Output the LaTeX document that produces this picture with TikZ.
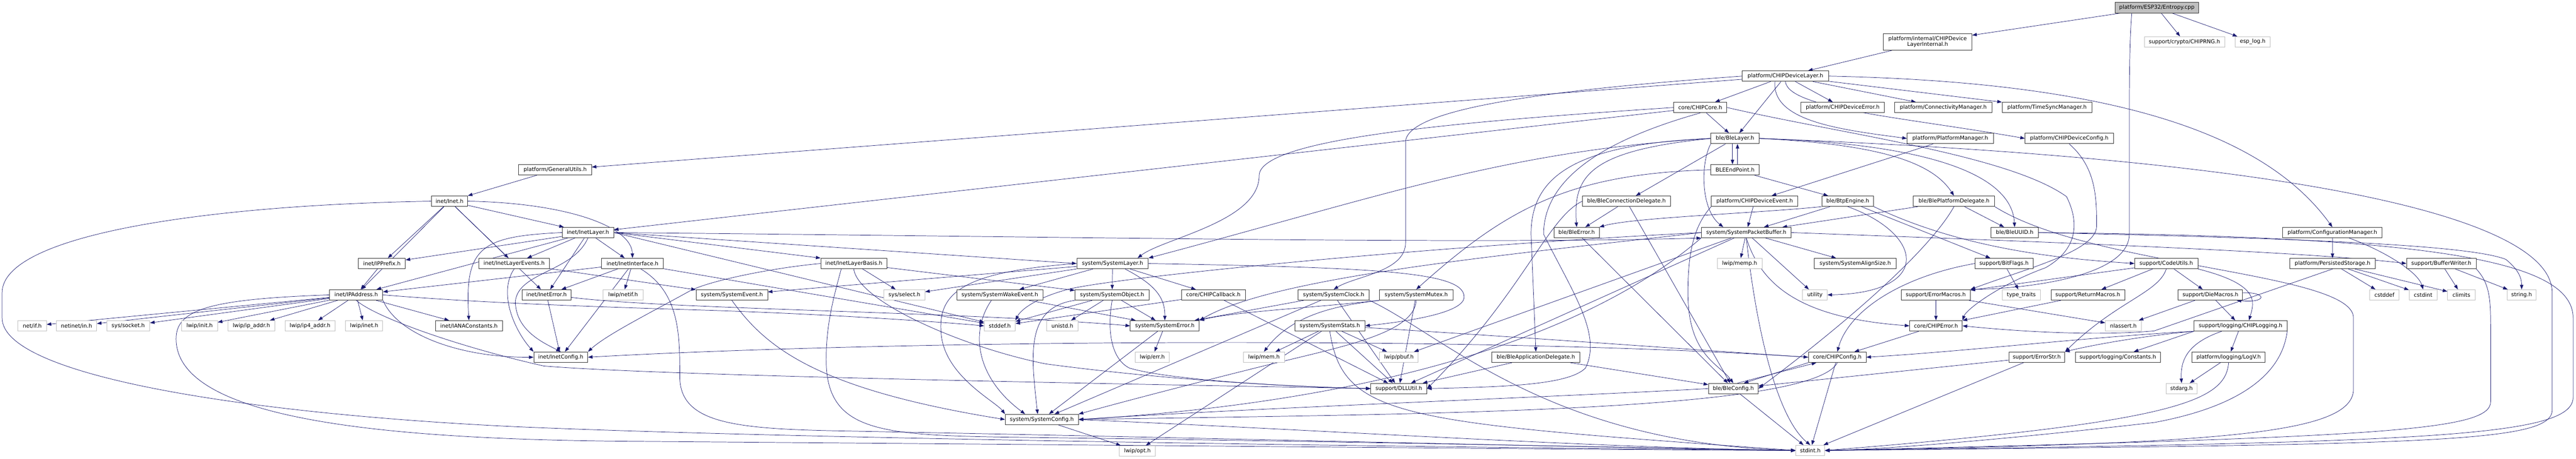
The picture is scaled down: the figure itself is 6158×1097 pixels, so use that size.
\documentclass[tikz,border=0pt]{standalone}
\usepackage{fontspec}
\newfontfamily\dvs{DejaVu Sans}
\usetikzlibrary{arrows.meta}
\definecolor{edgec}{HTML}{191970}
\pgfdeclarelayer{bg}
\pgfsetlayers{bg,main}
\tikzset{
  nd/.style={draw=black!80, line width=1.1pt, fill=white, minimum height=25pt, inner sep=0pt, text=black, font=\dvs\fontsize{12.9}{14}\selectfont},
  gn/.style={nd, draw=black!25},
  rn/.style={nd, fill=black!25},
  ed/.style={draw=edgec, line width=0.9pt, -{Triangle[length=11pt,width=8pt]}},
}
\begin{document}
\begin{tikzpicture}[x=1pt,y=-1pt]
\useasboundingbox (0,0) rectangle (6158,1097);
% ---------- nodes ----------
\node[rn,minimum width=200] (root) at (5156,18.5) {platform/ESP32/Entropy.cpp};
\node[nd,minimum width=212,minimum height=40,align=center] (dli) at (4608,100) {platform/internal/CHIPDevice\\LayerInternal.h};
\node[gn,minimum width=192] (rng) at (5222,100) {support/crypto/CHIPRNG.h};
\node[gn,minimum width=84] (esplog) at (5385,100) {esp\_log.h};
\node[nd,minimum width=206] (dl) at (4268,182) {platform/CHIPDeviceLayer.h};
\node[nd,minimum width=127] (core) at (4064.5,257) {core/CHIPCore.h};
\node[nd,minimum width=200] (derr) at (4405,257) {platform/CHIPDeviceError.h};
\node[nd,minimum width=233] (conn) at (4645.5,257) {platform/ConnectivityManager.h};
\node[nd,minimum width=215] (tsm) at (4893.5,257) {platform/TimeSyncManager.h};
\node[nd,minimum width=174] (gu) at (1327,406) {platform/GeneralUtils.h};
\node[nd,minimum width=115] (ble) at (4147.5,331) {ble/BleLayer.h};
\node[nd,minimum width=206] (pm) at (4662,331) {platform/PlatformManager.h};
\node[nd,minimum width=211] (dcfg) at (4946.5,331) {platform/CHIPDeviceConfig.h};
\node[nd,minimum width=115] (bep) at (4147.5,406) {BLEEndPoint.h};
\node[nd,minimum width=87] (inet) at (1074.5,481) {inet/Inet.h};
\node[nd,minimum width=210] (bcd) at (3888,481) {ble/BleConnectionDelegate.h};
\node[nd,minimum width=207] (dev) at (4194.5,481) {platform/CHIPDeviceEvent.h};
\node[nd,minimum width=124] (btp) at (4417,481) {ble/BtpEngine.h};
\node[nd,minimum width=194] (bpd) at (4671,481) {ble/BlePlatformDelegate.h};
\node[nd,minimum width=237] (cfgm) at (5575.5,556) {platform/ConfigurationManager.h};
\node[nd,minimum width=123] (il) at (1405.5,556) {inet/InetLayer.h};
\node[nd,minimum width=108] (berr) at (3769,556) {ble/BleError.h};
\node[nd,minimum width=215] (spb) at (4174.5,556) {system/SystemPacketBuffer.h};
\node[nd,minimum width=114] (uuid) at (4816,556) {ble/BleUUID.h};
% row 630
\node[nd,minimum width=112] (ipp) at (913,630) {inet/IPPrefix.h};
\node[nd,minimum width=168] (ile) at (1229,630) {inet/InetLayerEvents.h};
\node[nd,minimum width=148] (iif) at (1512,630) {inet/InetInterface.h};
\node[nd,minimum width=158] (ilb) at (2041,630) {inet/InetLayerBasis.h};
\node[nd,minimum width=171] (sl) at (2659.5,630) {system/SystemLayer.h};
\node[gn,minimum width=107] (memp) at (4158.5,630) {lwip/memp.h};
\node[nd,minimum width=196] (align) at (4435,630) {system/SystemAlignSize.h};
\node[nd,minimum width=139] (bf) at (4790.5,630) {support/BitFlags.h};
\node[nd,minimum width=151] (cu) at (5178.5,630) {support/CodeUtils.h};
\node[nd,minimum width=204] (ps) at (5576,630) {platform/PersistedStorage.h};
\node[nd,minimum width=166] (bw) at (5836,630) {support/BufferWriter.h};
% row 705
\node[nd,minimum width=127] (ipa) at (851.5,705) {inet/IPAddress.h};
\node[nd,minimum width=117] (ierr) at (1306.5,705) {inet/InetError.h};
\node[gn,minimum width=95] (netif) at (1489.5,705) {lwip/netif.h};
\node[nd,minimum width=171] (sev) at (1749.5,705) {system/SystemEvent.h};
\node[gn,minimum width=98] (select) at (2162,705) {sys/select.h};
\node[nd,minimum width=206] (swe) at (2390,705) {system/SystemWakeEvent.h};
\node[nd,minimum width=177] (sobj) at (2658.5,705) {system/SystemObject.h};
\node[nd,minimum width=153] (cb) at (2900.5,705) {core/CHIPCallback.h};
\node[nd,minimum width=170] (sclk) at (3188,705) {system/SystemClock.h};
\node[nd,minimum width=175] (smtx) at (3385.5,705) {system/SystemMutex.h};
\node[gn,minimum width=59] (util) at (4338.5,705) {utility};
\node[nd,minimum width=165] (em) at (4627.5,705) {support/ErrorMacros.h};
\node[gn,minimum width=92] (tt) at (4832,705) {type\_traits};
\node[nd,minimum width=176] (rm) at (4991,705) {support/ReturnMacros.h};
\node[nd,minimum width=154] (die) at (5284,705) {support/DieMacros.h};
\node[gn,minimum width=70] (cstddef) at (5700,705) {cstddef};
\node[gn,minimum width=67] (cstdint) at (5792.5,705) {cstdint};
\node[gn,minimum width=66] (climits) at (5884,705) {climits};
\node[gn,minimum width=70] (string) at (6028,705) {string.h};
% row 779
\node[gn,minimum width=68] (ifh) at (77,779) {net/if.h};
\node[gn,minimum width=96] (netin) at (183,779) {netinet/in.h};
\node[gn,minimum width=103] (sock) at (306.5,779) {sys/socket.h};
\node[gn,minimum width=86] (linit) at (477,779) {lwip/init.h};
\node[gn,minimum width=112] (lipa) at (601,779) {lwip/ip\_addr.h};
\node[gn,minimum width=120] (lip4) at (741,779) {lwip/ip4\_addr.h};
\node[gn,minimum width=89] (linet) at (870.5,779) {lwip/inet.h};
\node[nd,minimum width=160] (iana) at (1121,779) {inet/IANAConstants.h};
\node[gn,minimum width=74] (stddef) at (2390,779) {stddef.h};
\node[gn,minimum width=75] (unistd) at (2539.5,779) {unistd.h};
\node[nd,minimum width=165] (serr) at (2784.5,779) {system/SystemError.h};
\node[nd,minimum width=168] (sstats) at (3179,779) {system/SystemStats.h};
\node[nd,minimum width=126] (cerr) at (4628,779) {core/CHIPError.h};
\node[gn,minimum width=86] (nlassert) at (5076,779) {nlassert.h};
\node[nd,minimum width=222] (log) at (5356,779) {support/logging/CHIPLogging.h};
% row 854
\node[nd,minimum width=129] (icfg) at (1340.5,854) {inet/InetConfig.h};
\node[gn,minimum width=81] (lerr) at (2754.5,854) {lwip/err.h};
\node[gn,minimum width=99] (lmem) at (3021.5,854) {lwip/mem.h};
\node[gn,minimum width=92] (pbuf) at (3344,854) {lwip/pbuf.h};
\node[nd,minimum width=211] (bad) at (3671.5,854) {ble/BleApplicationDelegate.h};
\node[nd,minimum width=138] (ccfg) at (4392,854) {core/CHIPConfig.h};
\node[nd,minimum width=134] (estr) at (4869,854) {support/ErrorStr.h};
\node[nd,minimum width=203] (lconst) at (5062.5,854) {support/logging/Constants.h};
\node[nd,minimum width=175] (logv) at (5327.5,854) {platform/logging/LogV.h};
% row 929 and below
\node[nd,minimum width=134] (dll) at (3344,929) {support/DLLUtil.h};
\node[nd,minimum width=119] (bcfg) at (4143.5,929) {ble/BleConfig.h};
\node[gn,minimum width=74] (stdarg) at (5215,929) {stdarg.h};
\node[nd,minimum width=175] (scfg) at (2490.5,1003) {system/SystemConfig.h};
\node[gn,minimum width=86] (opt) at (2719,1078) {lwip/opt.h};
\node[gn,minimum width=69] (stdint) at (4327.5,1077) {stdint.h};
% ---------- edges ----------
\begin{pgfonlayer}{bg}
% root / device layer
\draw[ed] (root) -- (dli);
\draw[ed] (root) -- (rng);
\draw[ed] (root) -- (esplog);
\draw[ed] ([xshift=-60pt]root.south) .. controls (5092,80) and (5090,150) .. (5090,300) -- (5090,560) .. controls (5090,660) and (4850,690) .. (em.north east);
\draw[ed] (dli) -- (dl);
\draw[ed] (dl) -- (gu);
\draw[ed] (dl) -- (core);
\draw[ed] (dl.west) .. controls (3700,215) and (3360,260) .. (3360,340) -- (3360,580) .. controls (3360,650) and (3240,660) .. (sclk.north);
\draw[ed] (dl) -- (derr);
\draw[ed] (dl) -- (conn);
\draw[ed] (dl) -- (tsm);
\draw[ed] ([xshift=-25pt]dl.south) .. controls (4235,290) and (4400,310) .. (pm.west);
\draw[ed] (dl.south) .. controls (4275,260) and (4550,280) .. (dcfg.west);
\draw[ed] (dl) -- (ble);
\draw[ed] (dl.east) .. controls (5000,195) and (5400,300) .. (cfgm.north);
\draw[ed] (gu) -- (inet);
% inet
\draw[ed] (inet) -- (ipa);
\draw[ed] (inet) -- (ipp);
\draw[ed] (inet) -- (ierr);
\draw[ed] (inet) -- (ile);
\draw[ed] (inet) -- (il);
\draw[ed] (inet.east) .. controls (1350,485) and (1510,540) .. (iif.north);
\draw[ed] (inet.west) .. controls (500,490) and (5,560) .. (5,700) -- (5,760) .. controls (5,900) and (600,990) .. (1230,1020) .. controls (1800,1045) and (3000,1065) .. (stdint.west);
% core
\draw[ed] (core) -- (il);
\draw[ed] (core.west) .. controls (3500,290) and (3010,330) .. (3010,420) .. controls (3010,530) and (2780,570) .. ([xshift=60pt]sl.north);
\draw[ed] (core) -- (ble);
\draw[ed] (core.south) .. controls (3850,330) and (3690,420) .. (3690,560) .. controls (3760,700) and (3830,800) .. (3790,880) .. controls (3750,920) and (3600,925) .. (dll.east);
\draw[ed] (core.east) .. controls (4400,320) and (4800,370) .. (4940,470) .. controls (4975,540) and (4960,600) .. (4890,640) .. controls (4780,680) and (4700,740) .. (cerr.north east);
% ble
\draw[ed] ([xshift=-6pt]ble.south) -- ([xshift=-6pt]bep.north);
\draw[ed] ([xshift=6pt]bep.north) -- ([xshift=6pt]ble.south);
\draw[ed] (ble) -- (bcd);
\draw[ed] (ble.west) .. controls (3800,360) and (3760,420) .. (berr.north);
\draw[ed] (ble.west) .. controls (3750,345) and (3660,430) .. (3660,560) -- (bad.north);
\draw[ed] (ble.west) .. controls (3600,360) and (3300,470) .. (sl.north east);
\draw[ed] (ble.east) .. controls (4500,345) and (4620,390) .. (bpd.north);
\draw[ed] (ble.east) .. controls (4650,345) and (4810,430) .. (uuid.north);
\draw[ed] (ble.south west) .. controls (4065,390) and (4065,500) .. ([xshift=-55pt]spb.north);
\draw[ed] (ble.east) .. controls (5500,380) and (6101,520) .. (6101,700) -- (6101,980) .. controls (6101,1060) and (5800,1062) .. (stdint.east);
% bep, bcd, berr, bad, dev, pm, dcfg
\draw[ed] (bep) -- (btp);
\draw[ed] (bep.west) .. controls (3750,415) and (3600,500) .. (smtx.north);
\draw[ed] (bcd) -- (berr);
\draw[ed] (bcd) -- (bcfg);
\draw[ed] (bcd.west) .. controls (3700,520) and (3640,700) .. (dll.east);
\draw[ed] (berr) -- (bcfg);
\draw[ed] (bad) -- (dll);
\draw[ed] (bad) -- (bcfg);
\draw[ed] (dev) -- (spb);
\draw[ed] (dev.south west) .. controls (4050,540) and (4035,600) .. (4035,700) .. controls (4035,850) and (4110,870) .. (bcfg.north);
\draw[ed] (pm) -- (dev);
\draw[ed] (dcfg.south) .. controls (5010,400) and (5012,470) .. (5012,540) .. controls (5012,600) and (4850,640) .. (em.north east);
% btp, bpd, uuid
\draw[ed] (btp) -- (spb);
\draw[ed] (btp.south west) .. controls (4200,510) and (3900,520) .. (berr.north east);
\draw[ed] (btp) -- (bf);
\draw[ed] (btp.south) .. controls (4600,560) and (4620,700) .. (util.east);
\draw[ed] (btp.south east) .. controls (4700,600) and (4950,620) .. (cu.west);
\draw[ed] (bpd) -- (spb);
\draw[ed] (bpd) -- (uuid);
\draw[ed] (bpd.south) .. controls (4600,620) and (4350,820) .. (bcfg.east);
\draw[ed] (bpd.south east) .. controls (5000,640) and (5626,650) .. (5626,760) -- (5626,930) .. controls (5626,1040) and (5300,1060) .. (stdint.east);
\draw[ed] (uuid.east) .. controls (5500,570) and (5900,585) .. (5990,620) .. controls (6015,640) and (6028,660) .. (string.north);
\draw[ed] (uuid.east) .. controls (5800,565) and (6151,620) .. (6151,760) -- (6151,950) .. controls (6151,1045) and (5800,1058) .. (stdint.east);
% inet layer
\draw[ed] (il) -- (ipp);
\draw[ed] (il) -- (ipa);
\draw[ed] (il.west) .. controls (1150,565) and (1110,590) .. (iana.north);
\draw[ed] (il) -- (ile);
\draw[ed] (il) -- (iif);
\draw[ed] (il) -- (ierr);
\draw[ed] (il.south) .. controls (1370,650) and (1240,650) .. (1232,720) .. controls (1232,790) and (1300,820) .. (icfg.north);
\draw[ed] (il.east) -- (ilb.north west);
\draw[ed] (il.east) -- (sl.west);
\draw[ed] (il.east) .. controls (2500,565) and (3500,585) .. (spb.south west);
\draw[ed] (il.east) -- (stddef);
\draw[ed] (ile.south) .. controls (1190,700) and (1230,790) .. (icfg.north west);
\draw[ed] (ile) -- (sev);
\draw[ed] (iif) -- (ipa);
\draw[ed] (iif) -- (ierr);
\draw[ed] (iif) -- (netif);
\draw[ed] (iif) -- (icfg);
\draw[ed] (iif) -- (stddef);
\draw[ed] ([xshift=20pt]iif.south) .. controls (1625,700) and (1625,800) .. (1625,900) .. controls (1625,1010) and (1750,1025) .. (2000,1030) .. controls (2800,1045) and (3800,1070) .. (stdint.west);
\draw[ed] (ilb.west) .. controls (1850,640) and (1700,670) .. (1650,695) .. controls (1560,745) and (1450,800) .. (icfg.north east);
\draw[ed] (ilb) -- (select);
\draw[ed] (ilb) -- (sobj);
\draw[ed] (ilb.south) .. controls (2050,720) and (2300,830) .. (2500,870) .. controls (2800,910) and (3100,925) .. (dll.west);
\draw[ed] ([xshift=-30pt]ilb.south) .. controls (1990,720) and (1975,780) .. (1975,860) .. controls (1975,1030) and (2100,1040) .. (2400,1045) .. controls (3200,1055) and (3900,1070) .. (stdint.west);
\draw[ed] (ipp) -- (ipa);
\draw[ed] (ipa) -- (ifh);
\draw[ed] (ipa) -- (netin);
\draw[ed] (ipa) -- (sock);
\draw[ed] (ipa) -- (linit);
\draw[ed] (ipa) -- (lipa);
\draw[ed] (ipa) -- (lip4);
\draw[ed] (ipa) -- (linet);
\draw[ed] (ipa) -- (iana);
\draw[ed] (ipa.south east) .. controls (950,800) and (1100,855) .. (icfg.west);
\draw[ed] (ipa.east) .. controls (1100,720) and (1300,730) .. (1700,742) .. controls (2000,752) and (2250,770) .. (stddef.west);
\draw[ed] (ipa.south) .. controls (900,760) and (1100,830) .. (1300,875) .. controls (1600,900) and (2800,920) .. (dll.west);
\draw[ed] (ipa.west) .. controls (500,715) and (421,740) .. (421,810) .. controls (421,1000) and (900,1050) .. (1500,1055) .. controls (2800,1065) and (3800,1075) .. (stdint.west);
\draw[ed] (ierr) -- (icfg);
\draw[ed] ([yshift=-6pt]ierr.east) .. controls (1600,740) and (2300,745) .. (serr.west);
\draw[ed] (sev.south) .. controls (1830,830) and (1950,930) .. (scfg.west);
% system layer
\draw[ed] (sl) -- (select);
\draw[ed] (sl) -- (swe);
\draw[ed] (sl) -- (sobj);
\draw[ed] (sl) -- (cb);
\draw[ed] ([xshift=30pt]sl.south) .. controls (2760,680) and (2785,710) .. (serr.north);
\draw[ed] (sl.west) .. controls (2300,650) and (2240,700) .. (2250,800) .. controls (2260,900) and (2380,960) .. (scfg.north west);
\draw[ed] (sl) -- (sev);
\draw[ed] (sl.east) .. controls (3300,640) and (3500,650) .. (3500,710) .. controls (3500,750) and (3350,770) .. (sstats.east);
\draw[ed] ([xshift=-20pt]swe.south) .. controls (2320,790) and (2330,900) .. ([xshift=-40pt]scfg.north);
\draw[ed] (swe) -- (serr);
\draw[ed] (sobj) -- (stddef);
\draw[ed] (sobj) -- (unistd);
\draw[ed] (sobj) -- (serr);
\draw[ed] (sobj.south west) .. controls (2450,735) and (2465,850) .. ([xshift=-10pt]scfg.north);
\draw[ed] (sobj.south) .. controls (2645,800) and (2660,860) .. (2700,880) .. controls (2800,910) and (3100,925) .. (dll.west);
\draw[ed] (cb) -- (stddef);
\draw[ed] (cb) -- (dll);
\draw[ed] (sclk) -- (serr);
\draw[ed] (sclk) -- (scfg);
\draw[ed] (sclk) -- (dll);
\draw[ed] (sclk.south east) .. controls (3450,800) and (3700,1060) .. (stdint.west);
\draw[ed] (smtx.south west) .. controls (3150,735) and (2950,745) .. (serr.north east);
\draw[ed] (smtx.south west) .. controls (3200,730) and (3090,750) .. (lmem.north);
\draw[ed] (smtx.south) .. controls (3380,800) and (3200,830) .. (3000,880) .. controls (2800,930) and (2650,970) .. (scfg.north east);
\draw[ed] (smtx) -- (dll);
\draw[ed] (sstats) -- (pbuf);
\draw[ed] (sstats) -- (dll);
\draw[ed] (sstats) -- (lmem);
\draw[ed] (sstats) -- (opt);
\draw[ed] (sstats.south) .. controls (3210,1000) and (3350,1010) .. (stdint.west);
\draw[ed] ([yshift=-4pt]sstats.east) .. controls (3700,810) and (4100,840) .. (ccfg.west);
\draw[ed] (serr) -- (lerr);
\draw[ed] (serr) -- (scfg);
\draw[ed] (scfg) -- (opt);
\draw[ed] (scfg.east) .. controls (3200,1030) and (3800,1070) .. (stdint.west);
% packet buffer
\draw[ed] (spb) -- (memp);
\draw[ed] (spb) -- (align);
\draw[ed] (spb) -- (util);
\draw[ed] (spb.south) .. controls (4210,680) and (4300,760) .. (cerr.west);
\draw[ed] (spb) -- (pbuf);
\draw[ed] (spb.west) .. controls (3600,610) and (3050,660) .. (serr.north east);
\draw[ed] (spb.west) .. controls (3400,590) and (2700,660) .. (2560,690) .. controls (2480,710) and (2440,740) .. (stddef.north east);
\draw[ed] (spb.south west) .. controls (3800,800) and (3300,960) .. (scfg.east);
\draw[ed] (spb) -- (dll);
\draw[ed] (spb.south) .. controls (4200,800) and (4250,1000) .. (stdint.north);
\draw[ed] (spb.east) .. controls (4800,575) and (5500,600) .. (bw.west);
% support
\draw[ed] (cu) -- (em);
\draw[ed] (cu) -- (rm);
\draw[ed] (cu.south) .. controls (5160,700) and (5060,720) .. (estr.north east);
\draw[ed] (cu) -- (die);
\draw[ed] (cu.south east) .. controls (5400,680) and (5390,720) .. ([xshift=20pt]log.north);
\draw[ed] (em) -- (cerr);
\draw[ed] (em) -- (nlassert);
\draw[ed] (rm) -- (cerr);
\draw[ed] (bf) -- (tt);
\draw[ed] (bf.west) .. controls (4550,660) and (4420,740) .. (ccfg.north);
\draw[ed] (estr) -- (stdint);
\draw[ed] (estr) -- (bcfg);
\draw[ed] (cerr) -- (ccfg);
\draw[ed] (ccfg.south west) -- ([xshift=25pt]bcfg.north);
\draw[ed] ([xshift=10pt]bcfg.north) -- ([xshift=-50pt]ccfg.south);
\draw[ed] (ccfg) -- (stdint);
\draw[ed] (ccfg.south) .. controls (4330,990) and (3300,990) .. (scfg.east);
\draw[ed] (ccfg.west) .. controls (3500,800) and (2100,815) .. (icfg.east);
\draw[ed] (bcfg.west) .. controls (3700,950) and (3000,975) .. (scfg.east);
\draw[ed] (bcfg) -- (stdint);
\draw[ed] ([yshift=5pt]die.east) .. controls (5420,698) and (5420,725) .. ([xshift=-15pt]die.south east);
\draw[ed] (die) -- (log);
\draw[ed] (die) -- (nlassert);
\draw[ed] (log) -- (logv);
\draw[ed] ([xshift=-45pt]log.south) .. controls (5230,820) and (5212,860) .. (stdarg.north);
\draw[ed] (log.south west) -- (lconst);
\draw[ed] (log.south east) .. controls (5460,850) and (5420,960) .. (5150,1010) .. controls (4800,1050) and (4500,1075) .. (stdint.east);
\draw[ed] (log.south west) .. controls (5000,805) and (4700,840) .. (ccfg.east);
\draw[ed] (log.south west) .. controls (5100,805) and (4980,830) .. (estr.north east);
\draw[ed] (logv) -- (stdarg);
\draw[ed] (logv.south) .. controls (5320,960) and (5200,1010) .. (stdint.east);
\draw[ed] (cfgm) -- (ps);
\draw[ed] ([xshift=40pt]cfgm.south) .. controls (5700,600) and (5780,650) .. (cstdint.north);
\draw[ed] (ps) -- (cstddef);
\draw[ed] (ps) -- (cstdint);
\draw[ed] (ps) -- (climits);
\draw[ed] (ps.south) -- (5150,791) .. controls (5000,805) and (4800,790) .. (cerr.east);
\draw[ed] (bw) -- (climits);
\draw[ed] (bw) -- (string);
\draw[ed] (bw.south east) .. controls (5954,680) and (5954,720) .. (5954,800) -- (5954,960) .. controls (5954,1030) and (5700,1045) .. (stdint.east);
\end{pgfonlayer}
\end{tikzpicture}
\end{document}
